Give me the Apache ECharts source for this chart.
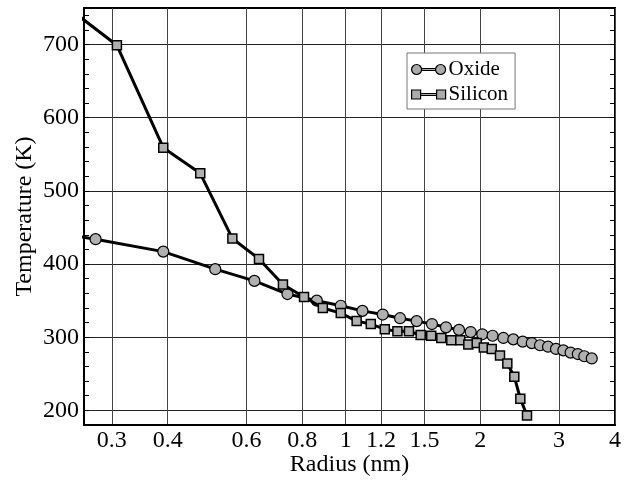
<!DOCTYPE html>
<html>
<head>
<meta charset="utf-8">
<script src="https://cdn.jsdelivr.net/npm/echarts@6/dist/echarts.min.js"></script>
<style>html,body{margin:0;padding:0;background:#fff}#c{width:629px;height:481px}</style>
</head>
<body>
<div id="c"></div>
<script>
var xTicks = [0.3, 0.4, 0.6, 0.8, 1, 1.2, 1.5, 2, 3, 4];
var yTicks = [200, 300, 400, 500, 600, 700];
var yMinorTicks = [200,220,240,260,280,300,320,340,360,380,400,420,440,460,480,500,520,540,560,580,600,620,640,660,680,700,720,740];
var oxide = [[0.16,458],[0.276,434],[0.391,417],[0.511,393],[0.625,377],[0.741,359],[0.862,350],[0.975,343],[1.090,336],[1.210,331],[1.323,326],[1.441,322],[1.559,318],[1.676,313.5],[1.792,310],[1.903,307],[2.020,304],[2.130,302],[2.252,299],[2.370,297],[2.487,294],[2.606,292],[2.719,289],[2.834,287],[2.952,284],[3.066,282],[3.183,279],[3.303,277],[3.415,274],[3.549,271]];
var silicon = [[0.225,763],[0.308,699],[0.391,559],[0.473,524],[0.558,435],[0.640,407],[0.724,372],[0.807,355],[0.889,340],[0.975,333],[1.058,322],[1.138,318],[1.223,311],[1.305,308],[1.385,308],[1.471,303],[1.553,302],[1.636,299],[1.722,296],[1.804,296],[1.880,290],[1.963,292],[2.036,286],[2.121,284],[2.213,275],[2.298,264],[2.382,246],[2.457,216],[2.543,193]];

var FONT = 'Liberation Serif';
var chart = echarts.init(document.getElementById('c'), null, {renderer: 'canvas'});
var circIcon = 'path://M0,5a5,5 0 1,0 10,0a5,5 0 1,0 -10,0Z M24,5a5,5 0 1,0 10,0a5,5 0 1,0 -10,0Z M10,4L24,4L24,6L10,6Z';
var sqIcon = 'path://M0,0H9V9H0Z M25,0H34V9H25Z M9,3.5H25V5.5H9Z';
chart.setOption({
  animation: false,
  backgroundColor: '#fff',
  textStyle: {fontFamily: FONT, color: '#000'},
  grid: {left: 84, top: 8, right: 14, bottom: 56, show: true, borderColor: '#000', borderWidth: 2,
    backgroundColor: 'transparent', containLabel: false, outerBoundsMode: 'none'},
  legend: {
    orient: 'vertical', left: 407, top: 53, padding: [6, 7, 4, 4],
    backgroundColor: '#fff', borderColor: '#777', borderWidth: 1, borderRadius: 0,
    itemWidth: 34, itemHeight: 10, itemGap: 4,
    textStyle: {fontFamily: FONT, fontSize: 21, color: '#000', padding: [0, 0, 0, -2]},
    data: [
      {name: 'Oxide', icon: circIcon, itemStyle: {color: '#aaa', borderColor: '#000', borderWidth: 1.2}},
      {name: 'Silicon', icon: sqIcon, itemStyle: {color: '#aaa', borderColor: '#000', borderWidth: 1.2}}
    ]
  },
  xAxis: {
    type: 'log', min: 0.26, max: 4, logBase: 10,
    name: 'Radius (nm)', nameLocation: 'middle', nameGap: 28, nameMoveOverlap: false,
    nameTextStyle: {fontFamily: FONT, fontSize: 24, color: '#000'},
    axisLine: {show: true, lineStyle: {color: '#000', width: 2}},
    axisTick: {show: false, customValues: xTicks},
    axisLabel: {customValues: xTicks, fontFamily: FONT, fontSize: 24, lineHeight: 18, color: '#000', margin: 7,
      formatter: function (v) { return String(Math.round(v * 10) / 10); }},
    splitLine: {show: true, lineStyle: {color: '#444', width: 1}},
    minorTick: {show: false}, minorSplitLine: {show: false}
  },
  yAxis: [{
    type: 'value', min: 180, max: 750, interval: 100,
    name: 'Temperature (K)', nameLocation: 'middle', nameGap: 47, nameMoveOverlap: false,
    nameTextStyle: {fontFamily: FONT, fontSize: 24, color: '#000'},
    axisLine: {show: true, lineStyle: {color: '#000', width: 2}},
    axisTick: {show: true, inside: true, length: 5, lineStyle: {color: '#000'}, customValues: yTicks},
    minorTick: {show: false},
    axisLabel: {fontFamily: FONT, fontSize: 24, color: '#000', margin: 5, customValues: yTicks},
    splitLine: {show: true, lineStyle: {color: '#222', width: 1}}
  }, {
    type: 'value', min: 180, max: 750, position: 'left',
    axisLine: {show: false},
    axisTick: {show: true, inside: true, length: 5, lineStyle: {color: '#000'}, customValues: yMinorTicks},
    axisLabel: {show: false, customValues: [200]},
    splitLine: {show: false}
  }, {
    type: 'value', min: 180, max: 750, position: 'right',
    axisLine: {show: false},
    axisTick: {show: true, inside: true, length: 5, lineStyle: {color: '#000'}, customValues: yMinorTicks},
    axisLabel: {show: false, customValues: [200]},
    splitLine: {show: false}
  }],
  series: [{
    name: 'Oxide', type: 'line', data: oxide, clip: true,
    symbol: 'circle', symbolSize: 11,
    lineStyle: {color: '#000', width: 3},
    itemStyle: {color: '#b0b0b0', borderColor: '#000', borderWidth: 1.2},
    z: 3
  }, {
    name: 'Silicon', type: 'line', data: silicon, clip: true,
    symbol: 'rect', symbolSize: 9,
    lineStyle: {color: '#000', width: 3},
    itemStyle: {color: '#b0b0b0', borderColor: '#000', borderWidth: 1.5},
    z: 4
  }]
});
</script>
</body>
</html>
